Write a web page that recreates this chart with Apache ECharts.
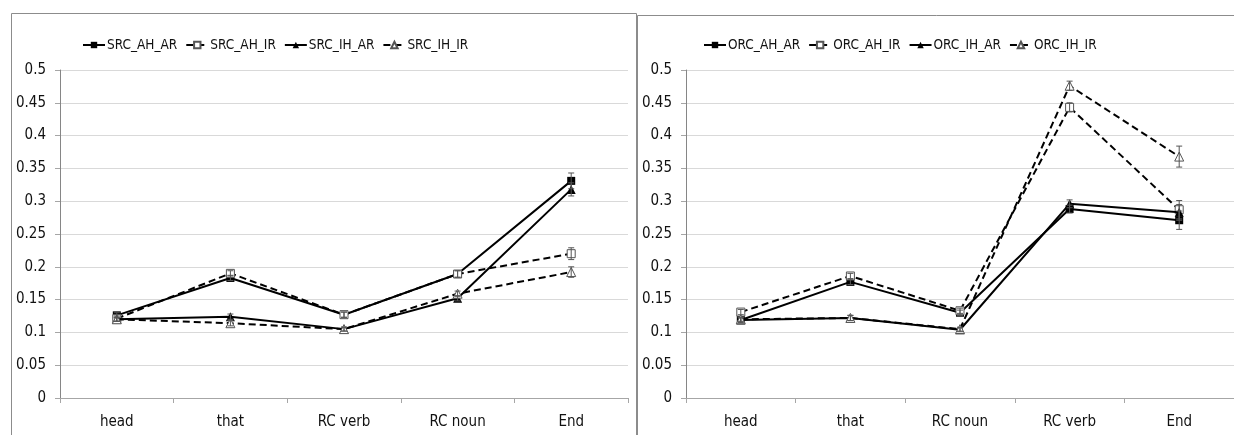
<!DOCTYPE html>
<html>
<head>
<meta charset="utf-8">
<script src="https://cdn.jsdelivr.net/npm/echarts@6/dist/echarts.min.js"></script>
<style>
  html, body { margin: 0; padding: 0; background: #ffffff; }
  #chart { width: 1234px; height: 435px; }
</style>
</head>
<body>
<div id="chart"></div>
<script>
// Word-by-word reading measures for subject (SRC) and object (ORC) relative clauses
const srcCategories = ['head', 'that', 'RC verb', 'RC noun', 'End'];
const orcCategories = ['head', 'that', 'RC noun', 'RC verb', 'End'];

const srcNames = ['SRC_AH_AR', 'SRC_AH_IR', 'SRC_IH_AR', 'SRC_IH_IR'];
const orcNames = ['ORC_AH_AR', 'ORC_AH_IR', 'ORC_IH_AR', 'ORC_IH_IR'];

const srcAhAr = [0.126, 0.183, 0.127, 0.189, 0.331];
const srcAhIr = [0.121, 0.190, 0.127, 0.189, 0.220];
const srcIhAr = [0.120, 0.124, 0.105, 0.152, 0.318];
const srcIhIr = [0.120, 0.114, 0.105, 0.159, 0.192];

const orcAhAr = [0.119, 0.177, 0.130, 0.288, 0.271];
const orcAhIr = [0.131, 0.186, 0.133, 0.443, 0.287];
const orcIhAr = [0.119, 0.122, 0.104, 0.296, 0.283];
const orcIhIr = [0.120, 0.122, 0.105, 0.476, 0.368];

// standard errors
const srcAhArErr = [0.004, 0.004, 0.004, 0.005, 0.012];
const srcAhIrErr = [0.004, 0.004, 0.004, 0.005, 0.009];
const srcIhArErr = [0.003, 0.004, 0.003, 0.004, 0.010];
const srcIhIrErr = [0.003, 0.004, 0.003, 0.004, 0.008];

const orcAhArErr = [0.004, 0.004, 0.004, 0.006, 0.014];
const orcAhIrErr = [0.004, 0.004, 0.004, 0.007, 0.014];
const orcIhArErr = [0.003, 0.004, 0.003, 0.006, 0.012];
const orcIhIrErr = [0.003, 0.004, 0.003, 0.007, 0.016];

const yMin = 0, yMax = 0.5, yStep = 0.05;

const FONT = '"DejaVu Sans Condensed", "Liberation Sans", sans-serif';
const GRID_COLOR = '#d9d9d9';
const AXIS_COLOR = '#a6a6a6';

// marker / line style per series position: filled square, open square, filled triangle, open triangle
const styles = [
  { symbol: 'rect', size: 8, fill: '#000', border: '#000', dash: 'solid' },
  { symbol: 'rect', size: 8, fill: '#fff', border: '#555', dash: [7, 4] },
  { symbol: 'triangle', size: 9, fill: '#000', border: '#000', dash: 'solid' },
  { symbol: 'triangle', size: 9, fill: '#fff', border: '#555', dash: [7, 4] }
];

function lineSeries(name, values, idx, gridIdx) {
  const s = styles[idx];
  return {
    name: name,
    type: 'line',
    xAxisIndex: gridIdx,
    yAxisIndex: gridIdx,
    data: values,
    symbol: s.symbol,
    symbolSize: s.size,
    showAllSymbol: true,
    lineStyle: { color: '#000', width: 2, type: s.dash },
    itemStyle: { color: s.fill, borderColor: s.border, borderWidth: s.fill === '#fff' ? 1 : 0 },
    z: 3 + idx,
    animation: false
  };
}

function errorSeries(values, errs, gridIdx) {
  return {
    type: 'custom',
    xAxisIndex: gridIdx,
    yAxisIndex: gridIdx,
    data: values.map((v, i) => [i, v, errs[i]]),
    encode: { x: 0, y: 1 },
    silent: true,
    z: 10,
    animation: false,
    renderItem: function (params, api) {
      const i = api.value(0), v = api.value(1), e = api.value(2);
      const hi = api.coord([i, v + e]);
      const lo = api.coord([i, v - e]);
      const cap = 3;
      const st = { stroke: '#555', lineWidth: 1 };
      return {
        type: 'group',
        children: [
          { type: 'line', shape: { x1: hi[0], y1: hi[1], x2: lo[0], y2: lo[1] }, style: st },
          { type: 'line', shape: { x1: hi[0] - cap, y1: hi[1], x2: hi[0] + cap, y2: hi[1] }, style: st },
          { type: 'line', shape: { x1: lo[0] - cap, y1: lo[1], x2: lo[0] + cap, y2: lo[1] }, style: st }
        ]
      };
    }
  };
}

function xAxis(cats, gridIdx) {
  return {
    type: 'category',
    gridIndex: gridIdx,
    data: cats,
    boundaryGap: true,
    axisLine: { show: true, lineStyle: { color: AXIS_COLOR, width: 1 } },
    axisTick: { show: true, length: 5, lineStyle: { color: AXIS_COLOR } },
    axisLabel: { color: '#111', fontSize: 15, fontFamily: FONT, margin: 17 },
    splitLine: { show: false }
  };
}

function yAxis(gridIdx) {
  return {
    type: 'value',
    gridIndex: gridIdx,
    min: yMin,
    max: yMax,
    interval: yStep,
    axisLine: { show: true, lineStyle: { color: '#868686', width: 1 } },
    axisTick: { show: true, length: 5, lineStyle: { color: AXIS_COLOR } },
    axisLabel: {
      color: '#111', fontSize: 15, fontFamily: FONT, margin: 14,
      formatter: v => String(parseFloat(v.toFixed(2)))
    },
    splitLine: { show: true, lineStyle: { color: GRID_COLOR, width: 1 } }
  };
}

const legendCommon = {
  top: 33,
  itemWidth: 22,
  itemHeight: 8,
  itemGap: 8,
  textStyle: { color: '#111', fontSize: 13.5, fontFamily: FONT, padding: [0, 0, 0, -3] }
};

const chart = echarts.init(document.getElementById('chart'), null, { renderer: 'canvas' });

chart.setOption({
  animation: false,
  backgroundColor: '#ffffff',
  graphic: [
    { type: 'rect', shape: { x: 11.5, y: 13.5, width: 625, height: 460 }, style: { fill: 'none', stroke: '#8c8c8c', lineWidth: 1 }, z: 0 },
    { type: 'rect', shape: { x: 637.5, y: 15.5, width: 620, height: 460 }, style: { fill: 'none', stroke: '#8c8c8c', lineWidth: 1 }, z: 0 }
  ],
  legend: [
    Object.assign({ left: 77, data: srcNames }, legendCommon),
    Object.assign({ left: 698, data: orcNames }, legendCommon)
  ],
  grid: [
    { left: 60, top: 70, width: 568, height: 328 },
    { left: 686, top: 70, width: 552, height: 328 }
  ],
  xAxis: [xAxis(srcCategories, 0), xAxis(orcCategories, 1)],
  yAxis: [yAxis(0), yAxis(1)],
  series: [
    lineSeries(srcNames[0], srcAhAr, 0, 0),
    lineSeries(srcNames[1], srcAhIr, 1, 0),
    lineSeries(srcNames[2], srcIhAr, 2, 0),
    lineSeries(srcNames[3], srcIhIr, 3, 0),
    errorSeries(srcAhAr, srcAhArErr, 0),
    errorSeries(srcAhIr, srcAhIrErr, 0),
    errorSeries(srcIhAr, srcIhArErr, 0),
    errorSeries(srcIhIr, srcIhIrErr, 0),
    lineSeries(orcNames[0], orcAhAr, 0, 1),
    lineSeries(orcNames[1], orcAhIr, 1, 1),
    lineSeries(orcNames[2], orcIhAr, 2, 1),
    lineSeries(orcNames[3], orcIhIr, 3, 1),
    errorSeries(orcAhAr, orcAhArErr, 1),
    errorSeries(orcAhIr, orcAhIrErr, 1),
    errorSeries(orcIhAr, orcIhArErr, 1),
    errorSeries(orcIhIr, orcIhIrErr, 1)
  ]
});
</script>
</body>
</html>
